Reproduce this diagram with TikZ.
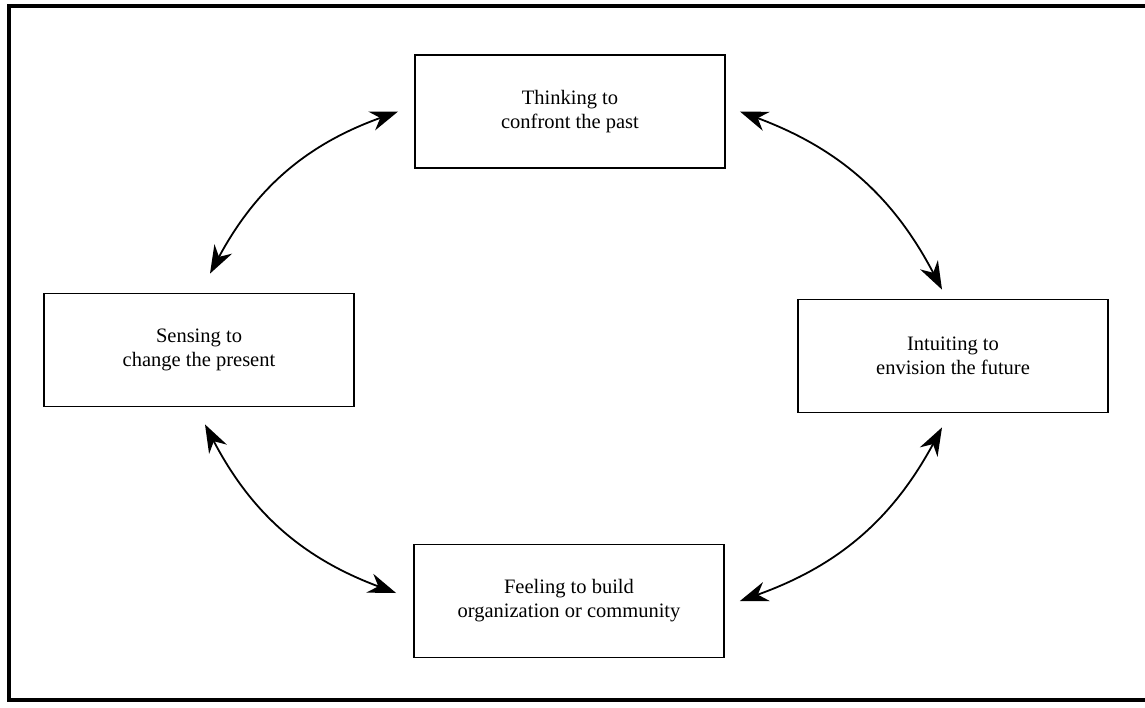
\documentclass[tikz,border=0pt]{standalone}
\usepackage{fontspec}
\setmainfont{Liberation Serif}
\usetikzlibrary{arrows.meta}
\tikzset{
  stagebox/.style={draw, line width=1.8pt, minimum width=310pt, minimum height=113pt,
    align=center, font=\fontsize{20.5pt}{24pt}\selectfont, inner sep=0pt},
  cyclearrow/.style={line width=1.8pt,
    {Stealth[length=28pt,width=20pt,inset=9pt]}-{Stealth[length=28pt,width=20pt,inset=9pt]}},
}
\begin{document}
\begin{tikzpicture}[x=1pt,y=-1pt]
\useasboundingbox (0,0) rectangle (1145,707);
\draw[line width=3.5pt] (1146,6) -- (9,6) -- (9,700) -- (1146,700);

\node[stagebox] (think) at (570,111.5) {Thinking to\\confront the past};
\node[stagebox] (sense) at (199,350) {Sensing to\\change the present};
\node[stagebox] (intuit) at (953,356) {Intuiting to\\envision the future};
\node[stagebox] (feel) at (569,601) {Feeling to build\\organization or community};

\coordinate (te) at ([xshift=14pt]think.east);
\coordinate (tw) at ([xshift=-16pt]think.west);
\coordinate (rn) at ([xshift=-11pt,yshift=9pt]intuit.north);
\coordinate (rs) at ([xshift=-11pt,yshift=-14pt]intuit.south);
\coordinate (be) at ([xshift=15pt]feel.east);
\coordinate (bw) at ([xshift=-17pt,yshift=8pt]feel.west);
\coordinate (ls) at ([xshift=6pt,yshift=-17pt]sense.south);
\coordinate (ln) at ([xshift=11pt,yshift=19pt]sense.north);

\draw[cyclearrow] (te) to[bend left=21] (rn);
\draw[cyclearrow] (rs) to[bend left=21] (be);
\draw[cyclearrow] (bw) to[bend left=21] (ls);
\draw[cyclearrow] (ln) to[bend left=21] (tw);
\end{tikzpicture}
\end{document}
